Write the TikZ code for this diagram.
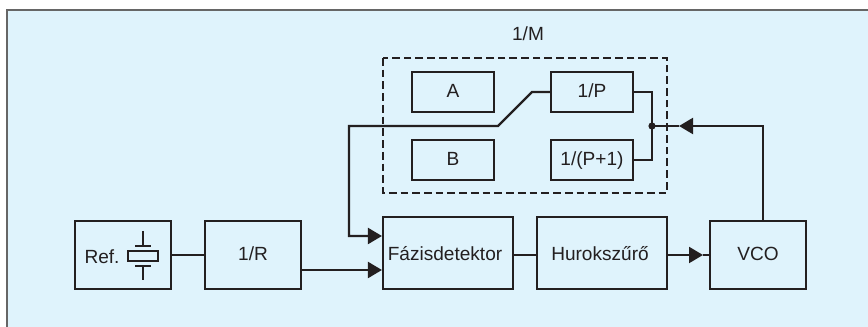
\documentclass[tikz,border=0pt]{standalone}
\usepackage{fontspec}
\setmainfont{Liberation Sans}
\usetikzlibrary{arrows.meta}
\definecolor{bgc}{HTML}{DFF3FC}
\definecolor{ink}{HTML}{231F20}
\definecolor{framec}{HTML}{666666}
\tikzset{
  x=0.75pt,y=-0.75pt,
  conn/.style={draw=ink,line width=1.6pt,line join=miter},
  arr/.style={conn,-{Triangle[length=10.5pt,width=12pt]}},
  lbl/.style={font=\fontsize{14.3pt}{16pt}\selectfont,text=ink,inner sep=0pt,text height=10.2pt,text depth=2.2pt},
  block/.style={lbl,draw=ink,line width=1.6pt,minimum width=#1,anchor=center},
  bigbox/.style={block=#1,minimum height=51pt,text depth=1.5pt},
  tallbox/.style={block=#1,minimum height=54pt,text height=11.7pt,text depth=0pt},
  smallbox/.style={block=61.5pt,minimum height=30pt},
}
\begin{document}
\begin{tikzpicture}
\useasboundingbox (0,0) rectangle (868,327);
\fill[bgc] (7,10) rectangle (868,327);
\draw[framec,line width=1.5pt] (7,327) -- (7,10) -- (868,10);

\node[lbl] (mlabel) at (528,35) {1/M};
\draw[ink,line width=1.6pt,dash pattern=on 5.8pt off 3pt] (383,58) rectangle (667,193);

\node[smallbox] (a) at (453,92) {A};
\node[smallbox] (b) at (453,160) {B};
\node[smallbox] (p) at (592,92) {1/P};
\node[smallbox] (q) at (592,160) {1/(P+1)};

\node[bigbox=72pt] (ref) at (123,255) {};
\node[lbl] (reflabel) at (102,258) {Ref.};
\node[bigbox=72pt] (r) at (253,255) {1/R};
\node[tallbox=97.5pt] (fd) at (448,253) {Fázisdetektor\kern4.5pt};
\node[tallbox=97.5pt] (hk) at (602,253) {Hurokszűrő\kern3pt};
\node[bigbox=72pt] (vco) at (758,255) {VCO};

% crystal
\coordinate (c1) at (143,231); \coordinate (c2) at (143,246);
\coordinate (c3) at (143,266); \coordinate (c4) at (143,280);
\draw[conn] (c1) -- (c2);
\draw[conn] (135,246) -- (151,246);
\draw[conn] (128,251) rectangle (158,261);
\draw[conn] (135,266) -- (151,266);
\draw[conn] (c3) -- (c4);

% connectors
\coordinate (jx) at (652,126);
\fill[ink] (jx) circle (2.7pt);
\node[inner sep=0pt,minimum size=0pt] (j) at (jx) {};
\draw[conn] (p.east) -| (j.center) |- (q.east);

\coordinate (k1) at (532,92);
\coordinate (k2) at (498,126);
\coordinate (k3) at (349,126);
\coordinate (t2) at (349,236);
\draw[arr] (p.west) -- (k1) -- (k2) -- (k3) -- (t2) -- (fd.west |- t2);

\coordinate (t3) at (301,270);
\draw[arr] (r.east |- t3) -- (fd.west |- t3);
\draw[conn] (ref.east) -- (r.west);
\draw[conn] (fd.east |- 0,255) -- (hk.west |- 0,255);
\coordinate (t4) at (703,255);
\draw[arr] (hk.east |- t4) -- (t4);
\draw[conn] (t4) -- (vco.west);

\coordinate (v1) at (763,126);
\coordinate (t5) at (679,126);
\draw[arr] (vco.north -| v1) -- (v1) -- (t5);
\draw[conn] (t5) -- (j.center);
\end{tikzpicture}
\end{document}
